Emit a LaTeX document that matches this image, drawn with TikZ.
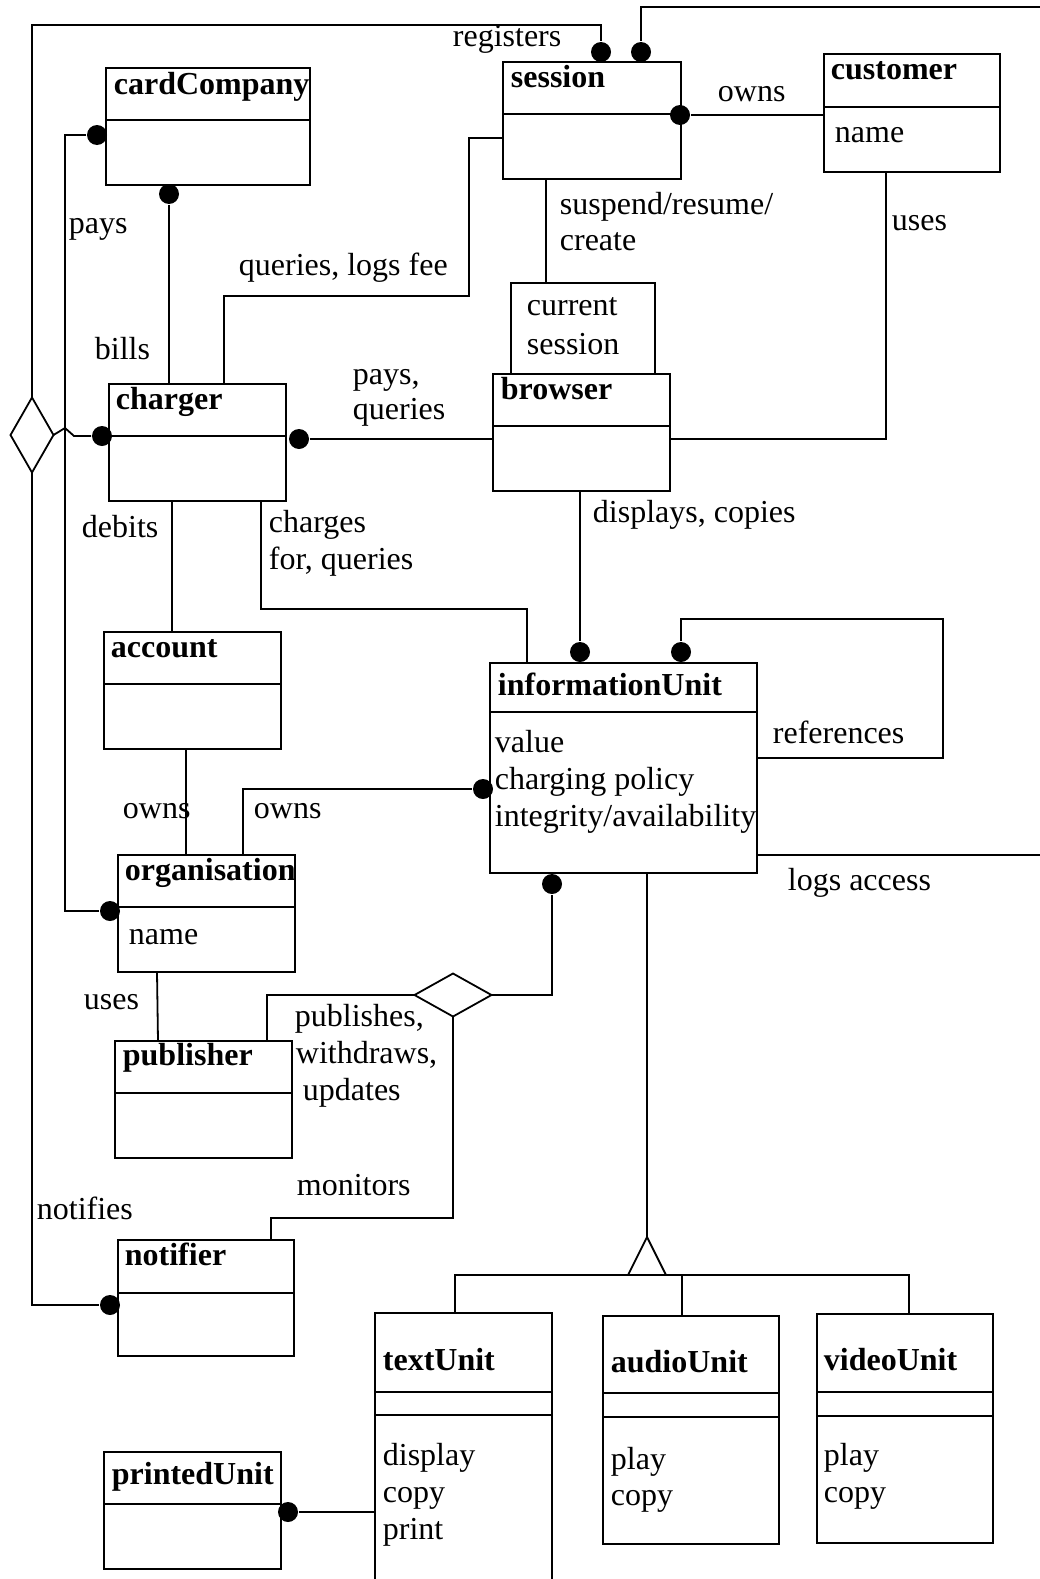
\documentclass[tikz,border=0pt]{standalone}
\usepackage{fontspec}
\setmainfont{Liberation Serif}
\usetikzlibrary{shapes.geometric}

% class box: name, left, top, right, bottom, divider
\newcommand\umlclass[6]{%
  \node[cbox, anchor=north west, minimum width=#4-#2, minimum height=#5-#3] (#1) at (#2,#3) {};
  \draw (#2,#6) -- (#4,#6);
}

\begin{document}
\begin{tikzpicture}[x=1pt, y=-1pt, line width=1.8pt,
  cbox/.style={draw, rectangle, inner sep=0pt, outer sep=0pt},
  cname/.style={anchor=base west, inner sep=0pt, yshift=-2pt, font=\fontsize{32}{37}\selectfont\bfseries},
  txt/.style={anchor=base west, inner sep=0pt, yshift=-2pt, font=\fontsize{32}{37}\selectfont},
  dot/.style={circle, fill, inner sep=0pt, minimum size=20pt},
  rel/.style={draw, diamond, inner sep=0pt, outer sep=0pt}
]
\useasboundingbox (0,0) rectangle (1040,1579);

% ---------- classes ----------
\umlclass{cardCompany}{106}{68}{310}{185}{120}
\node[cname] at (113,92) {cardCompany};

\umlclass{session}{503}{62}{681}{179}{114}
\node[cname] at (510,85) {session};

\umlclass{customer}{824}{54}{1000}{172}{107}
\node[cname] at (830,77) {customer};
\node[txt] at (834,140) {name};

\node[cbox, anchor=north west, minimum width=144, minimum height=91] (qualifier) at (511,283) {};
\node[txt] at (526,313) {current};
\node[txt] at (526,352) {session};

\umlclass{browser}{493}{374}{670}{491}{426}
\node[cname] at (500,397) {browser};

\umlclass{charger}{109}{384}{286}{501}{436}
\node[cname] at (115,407) {charger};

\umlclass{account}{104}{632}{281}{749}{684}
\node[cname] at (110,655) {account};

\umlclass{informationUnit}{490}{663}{757}{873}{712}
\node[cname] at (497,693) {informationUnit};
\node[txt] at (494,750) {value};
\node[txt] at (494,787) {charging policy};
\node[txt] at (494,824) {integrity/availability};

\umlclass{organisation}{118}{855}{295}{972}{907}
\node[cname] at (124,878) {organisation};
\node[txt] at (128,942) {name};

\umlclass{publisher}{115}{1041}{292}{1158}{1093}
\node[cname] at (122,1063) {publisher};

\umlclass{notifier}{118}{1240}{294}{1356}{1293}
\node[cname] at (124,1263) {notifier};

\umlclass{printedUnit}{104}{1452}{281}{1569}{1504}
\node[cname] at (111,1482) {printedUnit};

\umlclass{textUnit}{375}{1313}{552}{1590}{1392}
\draw (375,1415) -- (552,1415);
\node[cname] at (382,1368) {textUnit};
\node[txt] at (382,1463) {display};
\node[txt] at (382,1500) {copy};
\node[txt] at (382,1537) {print};

\umlclass{audioUnit}{603}{1316}{779}{1544}{1393}
\draw (603,1417) -- (779,1417);
\node[cname] at (610,1370) {audioUnit};
\node[txt] at (610,1467) {play};
\node[txt] at (610,1503) {copy};

\umlclass{videoUnit}{817}{1314}{993}{1543}{1392}
\draw (817,1416) -- (993,1416);
\node[cname] at (823,1368) {videoUnit};
\node[txt] at (823,1463) {play};
\node[txt] at (823,1500) {copy};

% ---------- association diamonds ----------
\node[rel, minimum width=43, minimum height=75] (tern) at (32,435) {};
\node[rel, minimum width=77, minimum height=43] (pubRel) at (453,995) {};

% ---------- association ends ----------
\node[dot] (regDot)   at (601,52)  {};
\node[dot] (logDot)   at (641,52)  {};
\node[dot] (ownsDot)  at (680,115) {};
\node[dot] (billDot)  at (169,194) {};
\node[dot] (payDot)   at (97,135)  {};
\node[dot] (chgLDot)  at (102,436) {};
\node[dot] (chgRDot)  at (299,439) {};
\node[dot] (dispDot)  at (580,652) {};
\node[dot] (refDot)   at (681,652) {};
\node[dot] (iuOwnDot) at (483,789) {};
\node[dot] (iuPubDot) at (552,884) {};
\node[dot] (orgDot)   at (110,911) {};
\node[dot] (notDot)   at (110,1305) {};
\node[dot] (prtDot)   at (288,1512) {};

\coordinate (edgeTop) at (1040,7);
\coordinate (edgeLog) at (1040,855);

% ---------- connectors ----------
% registers
\draw (tern.north) -- (32,25) -- (601,25) -- (regDot);
\node[txt] at (452,45) {registers};
% session to the right margin
\draw (logDot) -- (641,7) -- (edgeTop);
% owns (session - customer)
\draw (ownsDot) -- (customer.west |- ownsDot);
\node[txt] at (717,99) {owns};
% suspend/resume/create
\draw (546,179) -- (qualifier.north -| 546,0);
\node[txt] at (559,212) {suspend/resume/};
\node[txt] at (559,248) {create};
% uses (customer - browser)
\draw (customer.south -| 886,0) -- (886,439) -- (browser.east |- 0,439);
\node[txt] at (891,228) {uses};
% bills
\draw (billDot) -- (charger.north -| billDot);
\node[txt] at (94,357) {bills};
% pays (cardCompany - organisation)
\draw (payDot) -- (65,135) -- (65,911) -- (orgDot);
\node[txt] at (68,231) {pays};
% ternary diamond to charger, hopping over the pays line
\draw (tern.east) -- (65,428) -- (74,436) -- (chgLDot);
% notifies
\draw (tern.south) -- (32,1305) -- (notDot);
\node[txt] at (36,1217) {notifies};
% queries, logs fee
\draw (charger.north -| 224,0) -- (224,296) -- (469,296) -- (469,138) -- (session.west |- 0,138);
\node[txt] at (238,273) {queries, logs fee};
% pays, queries (charger - browser)
\draw (chgRDot) -- (browser.west |- chgRDot);
\node[txt] at (352,382) {pays,};
\node[txt] at (352,417) {queries};
% debits
\draw (charger.south -| 172,0) -- (account.north -| 172,0);
\node[txt] at (81,535) {debits};
% charges for, queries
\draw (charger.south -| 261,0) -- (261,609) -- (527,609) -- (informationUnit.north -| 527,0);
\node[txt] at (268,530) {charges};
\node[txt] at (268,567) {for, queries};
% displays, copies
\draw (browser.south -| dispDot) -- (dispDot);
\node[txt] at (592,520) {displays, copies};
% references (self association)
\draw (refDot) -- (681,619) -- (943,619) -- (943,758) -- (informationUnit.east |- 0,758);
\node[txt] at (772,741) {references};
% logs access
\draw (informationUnit.east |- edgeLog) -- (edgeLog);
\node[txt] at (787,888) {logs access};
% owns (account - organisation)
\draw (account.south -| 186,0) -- (organisation.north -| 186,0);
\node[txt] at (122,816) {owns};
% owns (organisation - informationUnit)
\draw (organisation.north -| 243,0) -- (243,789) -- (iuOwnDot);
\node[txt] at (253,816) {owns};
% uses (organisation - publisher)
\draw (organisation.south -| 157,0) -- (publisher.north -| 158,0);
\node[txt] at (83,1007) {uses};
% publishes, withdraws, updates
\draw (publisher.north -| 267,0) -- (267,995) -- (pubRel.west);
\draw (pubRel.east) -- (552,995) -- (iuPubDot);
\node[txt] at (294,1024) {publishes,};
\node[txt] at (295,1061) {withdraws,};
\node[txt] at (302,1098) {updates};
% monitors
\draw (pubRel.south) -- (453,1218) -- (271,1218) -- (notifier.north -| 271,0);
\node[txt] at (296,1193) {monitors};
% printedUnit - textUnit
\draw (prtDot) -- (textUnit.west |- prtDot);

% ---------- generalisation ----------
\coordinate (genApex) at (647,1237);
\coordinate (genL) at (628,1275);
\coordinate (genR) at (666,1275);
\draw (genL) -- (genApex) -- (genR) -- cycle;
\draw (informationUnit.south -| genApex) -- (genApex);
\draw (textUnit.north -| 455,0) -- (455,1275) -- (909,1275) -- (videoUnit.north -| 909,0);
\draw (682,1275) -- (audioUnit.north -| 682,0);
\end{tikzpicture}
\end{document}
